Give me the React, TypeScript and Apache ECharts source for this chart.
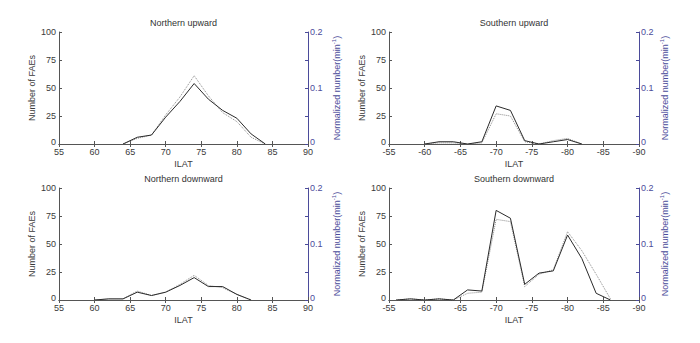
import React, { useEffect, useRef } from "react";
import * as echarts from "echarts";

// Northern upward
const nuX = [64, 66, 68, 70, 72, 74, 76, 78, 80, 82, 84];
const nuCount = [0, 6, 8, 24, 38, 54, 40, 30, 23, 9, 0];
const nuNorm = [0, 0.010, 0.016, 0.052, 0.084, 0.122, 0.086, 0.056, 0.040, 0.012, 0];

// Southern upward
const suX = [-60, -62, -64, -66, -68, -70, -72, -74, -76, -78, -80, -82];
const suCount = [0, 2, 2, 0, 2, 34, 30, 3, 0, 2, 4, 0];
const suNorm = [0, 0.002, 0.002, 0, 0.002, 0.054, 0.050, 0.004, 0, 0.006, 0.010, 0];

// Northern downward
const ndX = [60, 62, 64, 66, 68, 70, 72, 74, 76, 78, 80, 82];
const ndCount = [0, 1, 1, 7, 4, 7, 13, 20, 12, 12, 5, 0];
const ndNorm = [0, 0.002, 0.002, 0.016, 0.008, 0.014, 0.028, 0.044, 0.026, 0.022, 0.010, 0];

// Southern downward
const sdX = [-56, -58, -60, -62, -64, -66, -68, -70, -72, -74, -76, -78, -80, -82, -84, -86];
const sdCount = [0, 1, 0, 1, 0, 9, 8, 80, 73, 14, 24, 26, 58, 37, 6, 0];
const sdNorm = [0, 0.002, 0, 0.002, 0, 0.012, 0.014, 0.144, 0.140, 0.024, 0.046, 0.054, 0.122, 0.088, 0.046, 0.002];

const titles = ["Northern upward", "Southern upward", "Northern downward", "Southern downward"];
const leftTicks = [0, 25, 50, 75, 100];
const rightTickLabels = ["0", "0.1", "0.2"];

const zip = (xs: number[], ys: number[]) => xs.map((x, i) => [x, ys[i]]);

export default function App() {
  const ref = useRef<HTMLDivElement>(null);
  useEffect(() => {
    if (!ref.current) return;
    const chart = echarts.init(ref.current, undefined, { renderer: "svg" });
    const grids = [
      { left: 59, top: 32, width: 249, height: 112 },
      { left: 389, top: 32, width: 250, height: 112 },
      { left: 59, top: 188, width: 249, height: 112 },
      { left: 389, top: 188, width: 250, height: 112 },
    ];
    const rightNameGap = [23, 20, 23, 20];
    const southern = [false, true, false, true];
    const blue = "#4b4b9a";
    const axisColor = "#555";
    const labelColor = "#3a3a3a";
    const font = "Liberation Sans, Arial, sans-serif";
    const fs = 9;

    const xAxis: any[] = [];
    const yAxis: any[] = [];
    grids.forEach((g, i) => {
      const s = southern[i];
      const base = {
        type: "value",
        gridIndex: i,
        min: s ? -90 : 55,
        max: s ? -55 : 90,
        interval: 5,
        inverse: s,
        splitLine: { show: false },
        axisLine: { lineStyle: { color: axisColor, width: 1 } },
        axisTick: { inside: true, length: 3, lineStyle: { color: axisColor } },
      };
      xAxis.push({
        ...base,
        position: "bottom",
        name: "ILAT",
        nameLocation: "middle",
        nameGap: 15,
        nameTextStyle: { color: labelColor, fontSize: fs, fontFamily: font },
        axisLabel: { margin: 3, color: labelColor, fontSize: fs, fontFamily: font },
      });
      xAxis.push({
        ...base,
        position: "top",
        axisLabel: { show: false },
      });
      yAxis.push({
        type: "value",
        gridIndex: i,
        position: "left",
        min: 0,
        max: 100,
        interval: 25,
        splitLine: { show: false },
        axisLine: { show: true, lineStyle: { color: axisColor, width: 1 } },
        axisTick: { show: true, inside: true, length: 3, lineStyle: { color: axisColor } },
        axisLabel: {
          margin: 3,
          color: labelColor,
          fontSize: fs,
          fontFamily: font,
          formatter: (v: number) => (v === 0 ? "{z|0}" : leftTicks.includes(v) ? String(v) : ""),
          rich: { z: { fontSize: fs, fontFamily: font, color: labelColor, padding: [0, 0, 4, 0] } },
        },
        name: "Number of FAEs",
        nameLocation: "middle",
        nameGap: 23,
        nameRotate: 90,
        nameTextStyle: { color: labelColor, fontSize: fs, fontFamily: font },
      });
      yAxis.push({
        type: "value",
        gridIndex: i,
        position: "right",
        min: 0,
        max: 0.2,
        interval: 0.05,
        splitLine: { show: false },
        axisLine: { show: true, lineStyle: { color: blue, width: 1 } },
        axisTick: { show: true, inside: true, length: 3, lineStyle: { color: blue } },
        axisLabel: {
          margin: 2,
          color: blue,
          fontSize: fs,
          fontFamily: font,
          formatter: (v: number) => {
            const r = Math.round(v * 100) / 100;
            const t = r === 0 ? "0" : String(r);
            if (t === "0") return "{z|0}";
            return rightTickLabels.includes(t) ? t : "";
          },
          rich: { z: { fontSize: fs, fontFamily: font, color: blue, padding: [0, 0, 4, 0] } },
        },
        name: "Normalized number(min{sup|-1})",
        nameLocation: "middle",
        nameGap: rightNameGap[i],
        nameRotate: 90,
        nameTextStyle: {
          color: blue,
          fontSize: fs,
          fontFamily: font,
          rich: { sup: { fontSize: 6, color: blue, fontFamily: font, padding: [0, 0, 5, 0] } },
        },
      });
    });

    const panels = [
      { x: nuX, c: nuCount, n: nuNorm },
      { x: suX, c: suCount, n: suNorm },
      { x: ndX, c: ndCount, n: ndNorm },
      { x: sdX, c: sdCount, n: sdNorm },
    ];
    const series: any[] = [];
    panels.forEach((p, i) => {
      series.push({
        type: "line",
        xAxisIndex: i * 2,
        yAxisIndex: i * 2 + 1,
        data: zip(p.x, p.n),
        showSymbol: false,
        lineStyle: { color: "#8a8a8a", width: 1, type: "dotted" },
        z: 2,
      });
      series.push({
        type: "line",
        xAxisIndex: i * 2,
        yAxisIndex: i * 2,
        data: zip(p.x, p.c),
        showSymbol: false,
        lineStyle: { color: "#2a2a2a", width: 1 },
        z: 3,
      });
    });

    chart.setOption({
      animation: false,
      backgroundColor: "#ffffff",
      title: grids.map((g, i) => ({
        text: titles[i],
        left: g.left + g.width / 2,
        top: g.top - 14,
        padding: 0,
        textAlign: "center",
        textStyle: { fontSize: fs, fontWeight: "normal", color: "#333", fontFamily: font },
      })),
      grid: grids,
      xAxis,
      yAxis,
      series,
    });
    return () => chart.dispose();
  }, []);
  return (
    <div
      ref={ref}
      style={{ position: "absolute", left: 0, top: 0, width: 700, height: 343, background: "#fff" }}
    />
  );
}
